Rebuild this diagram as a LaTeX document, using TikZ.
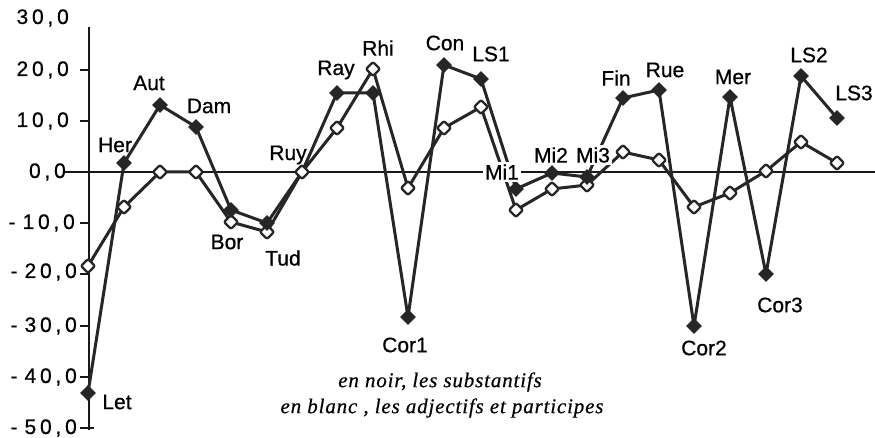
\documentclass[tikz,border=0pt]{standalone}
\usepackage{fontspec}
\setmainfont{Liberation Serif}
\newfontfamily\labfont[FakeBold=0.7]{Liberation Sans}
\newfontfamily\tickfont[LetterSpace=18,FakeBold=0.7]{Liberation Sans}
\newfontfamily\capfont[LetterSpace=4,FakeBold=0.5]{Liberation Serif}
\usetikzlibrary{shapes.geometric}
\tikzset{
  ser/.style={line width=3pt, draw=black!85, line join=round},
  bdia/.style={diamond, fill=black!85, inner sep=0pt, minimum width=16pt, minimum height=16pt},
  wdia/.style={diamond, fill=white, draw=black!85, line width=2.3pt, inner sep=0pt, minimum width=15pt, minimum height=15pt, rounded corners=2pt},
  lab/.style={font=\labfont\fontsize{21}{25}\selectfont, inner sep=1pt},
  wlab/.style={lab, fill=white, inner sep=2pt},
  ticklab/.style={font=\tickfont\fontsize{21}{25}\selectfont, anchor=east, inner sep=0pt},
  axisline/.style={line width=2.8pt, draw=black!90},
  captext/.style={font=\capfont\itshape\fontsize{21}{25}\selectfont, inner sep=0pt},
}
\begin{document}
\begin{tikzpicture}[x=1pt,y=-1pt]
\useasboundingbox (0,0) rectangle (875,438);
% axes
\coordinate (ytop) at (89,27);
\coordinate (ybot) at (89,430);
\coordinate (xl) at (65,172);
\coordinate (xr) at (875,172);
\draw[axisline] (ytop) -- (ybot);
\draw[axisline] (xl) -- (xr);
\foreach \v/\y in {20/70,10/121,-10/223,-20/274,-30/326,-40/377,-50/428}{
  \coordinate (t\v a) at (80,\y);
  \coordinate (t\v b) at (89,\y);
  \draw[axisline] (t\v a) -- (t\v b);
}
\coordinate (tbr) at (94,428);
\draw[axisline] (t-50b) -- (tbr);
% tick labels
\node[ticklab] (L30) at (69,18) {30,0};
\node[ticklab] (L20) at (69,70) {20,0};
\node[ticklab] (L10) at (69,121) {10,0};
\node[ticklab] (L0) at (66,172) {0,0};
\node[ticklab] (Lm10) at (75,223) {-\kern7pt10,0};
\node[ticklab] (Lm20) at (77,272) {-\kern7pt20,0};
\node[ticklab] (Lm30) at (77,326) {-\kern7pt30,0};
\node[ticklab] (Lm40) at (77,377) {-\kern7pt40,0};
\node[ticklab] (Lm50) at (77,428) {-\kern7pt50,0};
% data points: index / x / black y / white y
\foreach \n/\x/\yb/\yw in {
  1/88/393/266, 2/124/163/207, 3/160/105/172, 4/196/127/172,
  5/231/210/222, 6/267/223/232, 7/302/172/172, 8/337/93/128,
  9/373/93/69, 10/408/317/188, 11/444/65/128, 12/481/79/107,
  13/516/189/210, 14/552/173/189, 15/587/177/185, 16/623/98/152,
  17/659/90/160, 18/694/326/207, 19/730/97/193, 20/766/274/171,
  21/801/76/142, 22/837/118/163}{
  \coordinate (b\n) at (\x,\yb);
  \coordinate (w\n) at (\x,\yw);
}
% series lines
\draw[ser] (w1) \foreach \n in {2,...,22}{ -- (w\n)};
\draw[ser] (b1) \foreach \n in {2,...,22}{ -- (b\n)};
% markers
\foreach \n in {1,...,22}{ \node[wdia] (W\n) at (w\n) {}; }
\foreach \n in {1,...,6,8,9,...,22}{ \node[bdia] (B\n) at (b\n) {}; }
% labels
\node[lab] (nLet) at (117,402) {Let};
\node[lab] (nHer) at (115,145) {Her};
\node[lab] (nAut) at (149,83) {Aut};
\node[lab] (nDam) at (209,106) {Dam};
\node[lab] (nBor) at (227,242) {Bor};
\node[lab] (nTud) at (283,258) {Tud};
\node[lab] (nRuy) at (288,155) {Ruy};
\node[lab] (nRay) at (336,70) {Ray};
\node[lab] (nRhi) at (378,48) {Rhi};
\node[lab] (nCon) at (445,43) {Con};
\node[lab] (nLS1) at (491,54) {LS1};
\node[lab] (nCor1) at (405,345) {Cor1};
\node[wlab] (nMi1) at (502,172) {Mi1};
\node[wlab] (nMi2) at (551,155) {Mi2};
\node[wlab] (nMi3) at (593,155) {Mi3};
\node[lab] (nFin) at (616,78) {Fin};
\node[lab] (nRue) at (665,70) {Rue};
\node[lab] (nCor2) at (704,348) {Cor2};
\node[lab] (nMer) at (733,77) {Mer};
\node[lab] (nCor3) at (780,305) {Cor3};
\node[lab] (nLS2) at (809,55) {LS2};
\node[lab] (nLS3) at (854,93) {LS3};
% caption
\node[captext] (cap1) at (440,382) {en noir, les substantifs};
\node[captext] (cap2) at (442,408) {en blanc , les adjectifs et participes};
\end{tikzpicture}
\end{document}
